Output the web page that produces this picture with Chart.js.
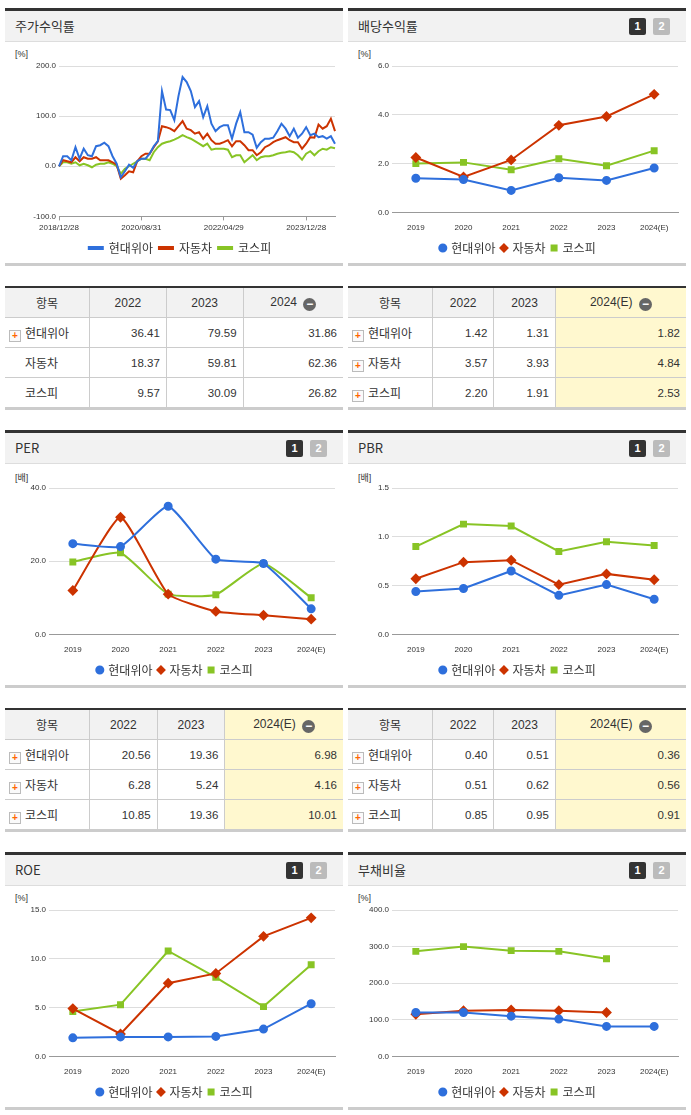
<!DOCTYPE html>
<html><head><meta charset="utf-8">
<script src="https://cdn.jsdelivr.net/npm/chart.js@4.4.1/dist/chart.umd.min.js"></script>
<style>
body{margin:0;width:691px;height:1115px;background:#fff;font-family:"Noto Sans CJK KR","Liberation Sans",sans-serif;position:relative;overflow:hidden}
.panel{position:absolute;width:338px;height:258px;border-top:3px solid #333;border-bottom:3px solid #ccc;box-sizing:border-box}
.hdr{height:30px;background:#f2f2f2;border-bottom:1px solid #ddd;font-size:13px;color:#333;line-height:30px;padding-left:10px;position:relative}
.btn{position:absolute;top:7px;width:17px;height:17px;font:bold 11px "Liberation Sans";color:#fff;text-align:center;line-height:17px;border-radius:2px}
.b1{right:40px;background:#333}.b2{right:16px;background:#bbb}
.unit{position:absolute;top:38px;left:10px;font-size:9px;color:#333;font-family:"Liberation Sans","Noto Sans CJK KR"}
.cv{position:absolute;left:0;top:33px;width:338px;height:220px}
table{position:absolute;width:338px;border-collapse:collapse;border-top:2px solid #333;border-bottom:3px solid #ccc;font-size:12px;color:#333}
th{background:#f2f2f2;font-weight:normal;height:29px;padding:0;border:1px solid #ccc;border-top:none;font-family:"Liberation Sans","Noto Sans CJK KR"}
td{height:29px;padding:0 6px 0 0;border:1px solid #ccc;text-align:right;font:11.5px "Liberation Sans"}
td.n{text-align:left;padding-left:4px;font:12px "Noto Sans CJK KR"}
th:first-child,td:first-child{border-left:none}th:last-child,td:last-child{border-right:none}
.y{background:#fff8cf}
.pl{display:inline-block;width:10px;height:10px;border:1px solid #bbb;background:#fafafa;color:#f60;font:bold 10px/10px "Liberation Sans";text-align:center;margin-right:4px;vertical-align:-1px}
.mi{display:inline-block;width:13px;height:13px;border-radius:50%;background:#666;color:#fff;font:bold 12px/12px "Liberation Sans";text-align:center;vertical-align:-2px;margin-left:3px}
</style></head><body>
<script>
// ---- data ----
const names = ['현대위아','자동차','코스피'];
const years = ['2019','2020','2021','2022','2023','2024(E)'];
const retTicks = {0:'2018/12/28',20:'2020/08/31',40:'2022/04/29',60:'2023/12/28'};
const retWia = [0,20,20,12,38,15,35,22,20,40,42,47,40,20,5,-22,-10,3,-3,10,15,15,25,40,50,150,113,112,92,140,178,168,150,118,130,98,120,85,70,78,82,82,55,85,108,68,68,63,37,48,55,55,57,70,85,75,60,75,57,65,78,62,65,58,60,55,60,45];
const retAuto = [0,12,10,8,18,10,18,15,15,18,12,12,12,8,3,-25,-18,-10,-12,10,20,25,25,38,50,80,78,75,70,80,90,75,72,65,68,55,65,52,45,45,48,52,40,50,50,42,32,32,22,28,38,42,48,52,55,58,52,48,48,35,45,58,57,83,75,80,95,70];
const retKospi = [0,8,8,5,8,2,5,2,-2,3,5,5,8,5,0,-15,-5,0,5,10,15,15,12,28,38,45,48,50,53,57,62,58,55,50,45,40,45,33,35,35,35,33,18,22,22,8,15,22,12,18,20,20,22,25,27,28,30,28,22,13,25,30,22,30,35,33,38,36];
const divWia=[1.4,1.35,0.9,1.42,1.31,1.82], divAuto=[2.25,1.45,2.15,3.57,3.93,4.84], divKospi=[2.0,2.05,1.75,2.20,1.91,2.53];
const perWia=[24.8,24,35,20.56,19.36,6.98], perAuto=[12,32,11,6.28,5.24,4.16], perKospi=[19.8,22.3,11,10.85,19.36,10.01];
const pbrWia=[0.44,0.47,0.65,0.40,0.51,0.36], pbrAuto=[0.57,0.74,0.76,0.51,0.62,0.56], pbrKospi=[0.90,1.13,1.11,0.85,0.95,0.91];
const roeWia=[1.9,2.0,2.0,2.05,2.8,5.4], roeAuto=[4.9,2.3,7.5,8.5,12.3,14.2], roeKospi=[4.6,5.3,10.8,8.1,5.1,9.4];
const debtWia=[120,120,110,102,82,82], debtAuto=[115,125,127,125,120,null], debtKospi=[287,300,289,287,267,null];
const t1Head=['2022','2023','2024'], t1=[[36.41,79.59,31.86],[18.37,59.81,62.36],[9.57,30.09,26.82]];
const tHead=['2022','2023','2024(E)'];
const t2=[[1.42,1.31,1.82],[3.57,3.93,4.84],[2.20,1.91,2.53]];
const t3=[[20.56,19.36,6.98],[6.28,5.24,4.16],[10.85,19.36,10.01]];
const t4=[[0.40,0.51,0.36],[0.51,0.62,0.56],[0.85,0.95,0.91]];
// ---- layout ----
const colors=['#2e6fdc','#cc3300','#88c425'];
const L=5,R=348;
function panel(x,y,title,btns,unit){
  const d=document.createElement('div');d.className='panel';d.style.left=x+'px';d.style.top=y+'px';
  d.innerHTML='<div class="hdr">'+title+(btns?'<span class="btn b1">1</span><span class="btn b2">2</span>':'')+'</div><div class="unit">'+unit+'</div><canvas></canvas>';
  document.body.appendChild(d);const c=d.querySelector('canvas');
  const w=document.createElement('div');w.className='cv';d.insertBefore(w,c);w.appendChild(c);return c;
}
function table(x,y,head,rows,yellow,icons){
  const t=document.createElement('table');t.style.left=x+'px';t.style.top=y+'px';
  let h='<tr><th style="width:84px">항목</th>'+head.map((s,i)=>'<th'+(yellow&&i==2?' class="y"':'')+'>'+s+(i==2?' <span class="mi">−</span>':'')+'</th>').join('')+'</tr>';
  rows.forEach((r,ri)=>{h+='<tr><td class="n">'+(icons[ri]?'<span class="pl">+</span>':'<span style="display:inline-block;width:16px"></span>')+names[ri]+'</td>'+r.map((v,i)=>'<td'+(yellow&&i==2?' class="y"':'')+'>'+v.toFixed(2)+'</td>').join('')+'</tr>';});
  t.innerHTML=h;document.body.appendChild(t);
}
Chart.defaults.font.family='"Liberation Sans","Noto Sans CJK KR"';
Chart.defaults.color='#333';
const legendOpts=(line)=>({position:'bottom',labels:{font:{size:12,family:'"Noto Sans CJK KR"'},color:'#333',padding:6,boxWidth:line?14:5,boxHeight:line?2:5,usePointStyle:!line}});
function yearChart(c,d,min,max,step,dec,tension){
  const ps=['circle','rectRot','rect'];
  new Chart(c,{type:'line',data:{labels:years,datasets:d.map((v,i)=>({label:names[i],data:v,borderColor:colors[i],backgroundColor:colors[i],borderWidth:2,pointStyle:ps[i],pointRadius:i==1?4:3.5,pointHoverRadius:4,tension:tension,spanGaps:false}))},
  options:{animation:false,responsive:true,maintainAspectRatio:false,layout:{padding:{left:10,right:8,top:22}},
   plugins:{legend:legendOpts(false),tooltip:{enabled:false}},
   scales:{x:{offset:true,grid:{display:false},border:{color:'#999'},ticks:{font:{size:8},color:'#333',maxRotation:0}},
    y:{min:min,max:max,ticks:{stepSize:step,font:{size:8},color:'#333',callback:v=>v.toFixed(dec)},grid:{color:'#ddd',drawTicks:false},border:{display:false},afterFit:a=>{a.width=34}}}}});
}
// top-left returns chart
const c1=panel(L,8,'주가수익률',false,'[%]');
new Chart(c1,{type:'line',data:{labels:retWia.map((_,i)=>retTicks[i]||''),datasets:[retWia,retAuto,retKospi].map((v,i)=>({label:names[i],data:v,borderColor:colors[i],backgroundColor:colors[i],borderWidth:2,pointRadius:0,tension:0}))},
 options:{animation:false,responsive:true,maintainAspectRatio:false,layout:{padding:{left:20,right:8,top:22}},
  plugins:{legend:legendOpts(true),tooltip:{enabled:false}},
  scales:{x:{grid:{display:true,drawOnChartArea:false,color:'#999',tickLength:4},border:{color:'#999'},ticks:{autoSkip:false,maxRotation:0,font:{size:8},color:'#333',callback:function(v,i){return retTicks[i]||null;}}},
   y:{min:-100,max:200,ticks:{stepSize:100,font:{size:8},color:'#333',callback:v=>v.toFixed(1)},grid:{color:'#ddd',drawTicks:false},border:{display:false},afterFit:a=>{a.width=34}}}}});
yearChart(panel(R,8,'배당수익률',true,'[%]'),[divWia,divAuto,divKospi],0,6,2,1,0);
table(L,286,t1Head,t1,false,[1,0,0]);
table(R,286,tHead,t2,true,[1,1,1]);
yearChart(panel(L,430,'PER',true,'[배]'),[perWia,perAuto,perKospi],0,40,20,1,0.15);
yearChart(panel(R,430,'PBR',true,'[배]'),[pbrWia,pbrAuto,pbrKospi],0,1.5,0.5,1,0);
table(L,708,tHead,t3,true,[1,1,1]);
table(R,708,tHead,t4,true,[1,1,1]);
yearChart(panel(L,852,'ROE',true,'[%]'),[roeWia,roeAuto,roeKospi],0,15,5,1,0);
yearChart(panel(R,852,'부채비율',true,'[%]'),[debtWia,debtAuto,debtKospi],0,400,100,1,0);
</script></body></html>
